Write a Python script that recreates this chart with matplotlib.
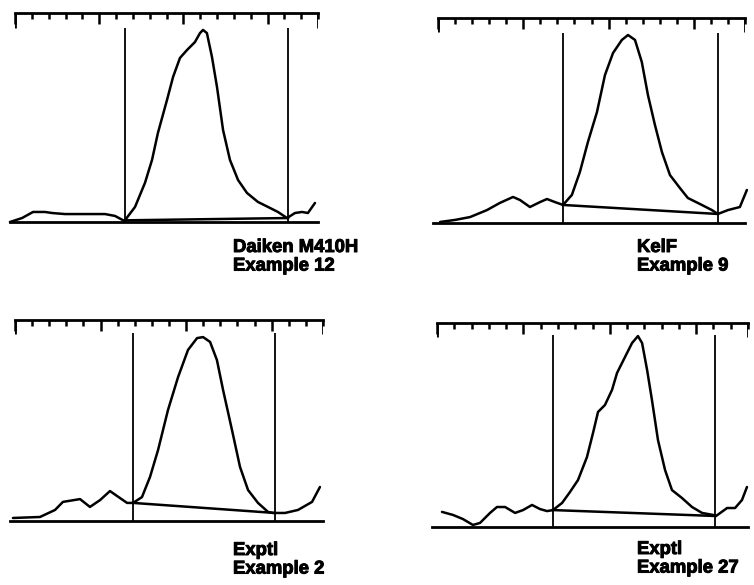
import numpy as np
import matplotlib
matplotlib.use("Agg")
import matplotlib.pyplot as plt
import matplotlib.patheffects as pe
from matplotlib.ticker import MultipleLocator

# scan units: x = 0..18 bracket divisions, y = 0..100 (bottom line .. bracket)
p1_x = [-0.30, 0.42, 1.07, 1.78, 2.20, 2.97, 4.16, 5.35, 5.94, 6.50, 7.13, 7.72, 8.14, 8.49,
        9.03, 9.39, 9.80, 10.22, 10.69, 10.99, 11.17, 11.40, 11.70, 12.00, 12.36, 12.77,
        13.25, 13.78, 14.43, 15.03, 15.62, 16.16, 16.63, 17.05, 17.40, 17.82]
p1_y = [0.0, 1.9, 4.8, 4.8, 4.3, 3.8, 3.8, 3.8, 2.9, 0.5, 7.2, 18.7, 29.7, 42.6,
        58.4, 69.4, 78.5, 82.3, 86.1, 90.4, 91.9, 90.4, 79.0, 64.6, 44.0, 29.7,
        20.1, 13.9, 9.6, 7.2, 4.8, 1.9, 4.3, 4.8, 4.3, 9.1]

p2_x = [0.12, 1.00, 1.88, 2.87, 3.63, 4.40, 4.81, 5.39, 5.98, 6.39, 6.86, 7.33, 7.85, 8.32,
        8.79, 9.32, 9.79, 10.26, 10.78, 11.14, 11.55, 11.95, 12.31, 12.72, 13.13, 13.60,
        14.18, 14.65, 15.47, 16.06, 16.41, 17.00, 17.70, 18.11]
p2_y = [0.5, 1.5, 2.9, 6.3, 9.8, 12.7, 11.2, 7.8, 10.2, 11.7, 10.2, 8.8, 13.7, 24.9,
        39.5, 54.1, 72.2, 82.9, 89.3, 91.7, 89.3, 78.5, 62.4, 47.8, 34.6, 23.4,
        17.1, 12.2, 8.8, 6.3, 4.4, 6.3, 7.8, 16.1]

p3_x = [-0.12, 1.46, 2.34, 2.80, 3.80, 4.38, 4.97, 5.55, 6.14, 6.55, 6.90, 7.42, 7.89, 8.36,
        8.94, 9.53, 10.11, 10.64, 10.99, 11.40, 11.80, 12.16, 12.68, 13.15, 13.62, 14.20,
        14.79, 15.08, 15.78, 16.54, 17.36, 17.82]
p3_y = [1.5, 2.0, 5.5, 9.5, 10.9, 7.0, 10.4, 14.9, 11.4, 9.0, 9.0, 11.9, 21.9, 35.3,
        55.2, 71.6, 85.1, 91.0, 91.5, 89.1, 80.1, 65.2, 45.3, 26.9, 15.4, 9.0,
        4.5, 4.0, 4.0, 5.5, 9.5, 16.9]

p4_x = [0.29, 0.93, 1.50, 2.08, 2.49, 3.07, 3.47, 3.94, 4.52, 4.98, 5.50, 5.96, 6.37, 6.71,
        7.24, 7.70, 8.16, 8.68, 9.03, 9.32, 9.72, 10.13, 10.42, 10.88, 11.29, 11.63, 11.87,
        12.16, 12.44, 12.79, 13.20, 13.60, 14.18, 14.76, 15.34, 15.98, 16.15, 16.79, 17.25,
        17.65, 17.94]
p4_y = [7.4, 5.9, 3.9, 1.0, 2.0, 6.9, 9.8, 9.8, 6.9, 8.3, 10.8, 8.8, 7.8, 8.3,
        11.8, 17.2, 23.0, 34.3, 46.1, 56.4, 59.8, 67.2, 75.5, 83.3, 90.2, 93.6, 90.2,
        77.0, 62.3, 42.6, 27.9, 18.1, 14.2, 9.8, 6.9, 5.9, 5.4, 9.3, 9.3,
        13.2, 19.6]

# integration limits (x) and baseline end heights (y)
limits = [(6.56, 16.22), (7.33, 16.41), (6.90, 15.19), (6.71, 16.09)]
base_y = [(0.8, 1.9), (8.8, 4.4), (9.0, 4.0), (8.3, 5.4)]
line_top = [92.8, 92.7, 93.5, 94.1]

labels = [("Daiken M410H", "Example 12"), ("KelF", "Example 9"),
          ("Exptl", "Example 2"), ("Exptl", "Example 27")]

curves = [(p1_x, p1_y), (p2_x, p2_y), (p3_x, p3_y), (p4_x, p4_y)]

W, H = 754, 585
# axes boxes in pixels: left, right, top, bottom
boxes = [(15, 318, 13, 222), (438, 745, 18, 223), (15, 323, 320, 521), (437, 748, 323, 527)]
label_pos = [(233, 239), (637, 239), (233, 542), (637, 541)]

fig = plt.figure(figsize=(W / 100, H / 100), dpi=100)
fig.patch.set_facecolor("white")

for i in range(4):
    l, r, t, b = boxes[i]
    ax = fig.add_axes([l / W, (H - b) / H, (r - l) / W, (b - t) / H])
    ax.set_xlim(0, 18)
    ax.set_ylim(0, 100)
    for s in ["left", "right"]:
        ax.spines[s].set_visible(False)
    ax.spines["top"].set_linewidth(2.0)
    ax.spines["bottom"].set_linewidth(2.0)
    ax.spines["bottom"].set_bounds(-0.3, 18)
    ax.xaxis.set_major_locator(MultipleLocator(5))
    ax.xaxis.set_minor_locator(MultipleLocator(1))
    ax.tick_params(axis="x", which="both", top=True, bottom=False, labeltop=False,
                   labelbottom=False, direction="in", color="black")
    ax.tick_params(axis="x", which="major", length=8, width=1.8)
    ax.tick_params(axis="x", which="minor", length=4, width=1.8)
    ax.set_yticks([])
    ax.vlines([0, 18], 93, 100, color="black", lw=2.0)

    x, y = curves[i]
    ax.plot(x, y, color="black", lw=1.8, clip_on=False,
            solid_joinstyle="round", solid_capstyle="round")
    x0, x1 = limits[i]
    ax.vlines([x0, x1], 0, line_top[i], color="black", lw=1.3)
    ax.plot([x0, x1], list(base_y[i]), color="black", lw=1.8)

    lx, ly = label_pos[i]
    fig.text(lx / W, 1 - ly / H, labels[i][0] + "\n" + labels[i][1],
             ha="left", va="top", fontsize=13.3, fontweight="bold",
             family="Liberation Sans", linespacing=1.12,
             path_effects=[pe.withStroke(linewidth=0.7, foreground="black")])

fig.savefig("out.png", dpi=100, facecolor="white")
